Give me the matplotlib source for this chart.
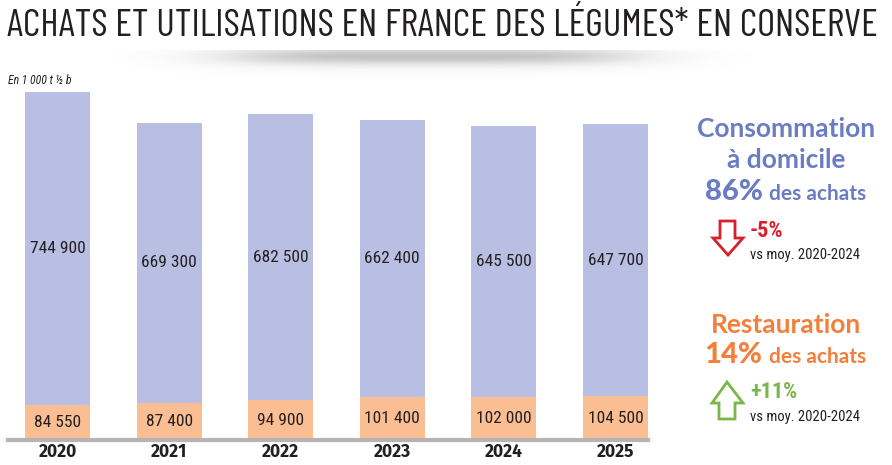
import numpy as np
import matplotlib.pyplot as plt
from matplotlib.patches import Polygon

W, H = 892, 465

years = ["2020", "2021", "2022", "2023", "2024", "2025"]
domicile = [744900, 669300, 682500, 662400, 645500, 647700]
restauration = [84550, 87400, 94900, 101400, 102000, 104500]
domicile_labels = ["744 900", "669 300", "682 500", "662 400", "645 500", "647 700"]
restauration_labels = ["84 550", "87 400", "94 900", "101 400", "102 000", "104 500"]

BLUE_BAR = "#b8bfe3"
ORANGE_BAR = "#fbbe93"
BLUE_TXT = "#6a7cc4"
ORANGE_TXT = "#f47f3a"
RED = "#d7202c"
GREEN = "#7ab648"
DARK = "#231f20"
NARROW = ["Roboto Condensed", "DejaVu Sans"]
GEO = ["Lato", "DejaVu Sans"]


def px(x, y):
    # pixel coords (from top-left) -> figure fraction
    return x / W, 1 - y / H


fig = plt.figure(figsize=(W / 100, H / 100), dpi=100)

# title, shrunk to fit the width of the reference
title = fig.text(*px(7, 27), "ACHATS ET UTILISATIONS EN FRANCE DES LÉGUMES* EN CONSERVE",
                 family=["Barlow Condensed", "Roboto Condensed", "DejaVu Sans"],
                 fontweight="normal", fontsize=30, color=DARK, va="center", ha="left")
r = fig.canvas.get_renderer()
tw = title.get_window_extent(r).width
if tw > 873:
    title.set_fontsize(30 * 873 / tw)

# soft shadow under the title
sax = fig.add_axes([60 / W, 1 - 80 / H, 740 / W, 30 / H])
gx = np.linspace(-1, 1, 300)
gy = np.linspace(0, 1, 40)
hx = np.exp(-(gx / 0.6) ** 4)
vy = np.exp(-((gy - 0.2) / 0.35) ** 2)
shade = np.outer(vy, hx) * 0.35
sax.imshow(shade, cmap="Greys", vmin=0, vmax=1, aspect="auto", interpolation="bilinear")
sax.axis("off")

fig.text(*px(8, 80), "En 1 000 t ½ b", fontsize=8.5, style="italic",
         color=DARK, va="center", ha="left", family=NARROW)

# bars
base_y, top_y = 440, 92
ax = fig.add_axes([8 / W, 1 - base_y / H, 640 / W, (base_y - top_y) / H])
x = np.arange(len(years))
totals = np.array(domicile) + np.array(restauration)
ax.bar(x, restauration, width=0.583, color=ORANGE_BAR, zorder=2)
ax.bar(x, domicile, width=0.583, bottom=restauration, color=BLUE_BAR, zorder=2)
ax.set_xlim(-0.444, 5.292)
ax.set_ylim(0, totals.max())
ax.axhline(0, color="#b5b5b7", lw=3, zorder=3, clip_on=False)
for i in range(len(years)):
    ax.text(x[i], restauration[i] + domicile[i] / 2, domicile_labels[i],
            ha="center", va="center", fontsize=12.5, family=NARROW, color=DARK)
    ax.text(x[i], restauration[i] / 2, restauration_labels[i],
            ha="center", va="center", fontsize=12.5, family=NARROW, color=DARK)
ax.set_xticks(x)
ax.set_xticklabels(years, fontsize=12.5, fontweight="bold", color=DARK,
                   family=["Fira Sans", "DejaVu Sans"])
ax.tick_params(axis="x", length=0, pad=2)
ax.set_yticks([])
for s in ax.spines.values():
    s.set_visible(False)

# right panel
fig.text(*px(786, 137), "Consommation", family=GEO, fontweight="bold", fontsize=19,
         color=BLUE_TXT, ha="center", va="baseline")
fig.text(*px(786, 168), "à domicile", family=GEO, fontweight="bold", fontsize=19,
         color=BLUE_TXT, ha="center", va="baseline")
fig.text(*px(763, 200), "86%", family=GEO, fontweight="black", fontsize=21,
         color=BLUE_TXT, ha="right", va="baseline")
fig.text(*px(769, 200), "des achats", family=GEO, fontweight="bold", fontsize=15,
         color=BLUE_TXT, ha="left", va="baseline")

fig.text(*px(786, 333), "Restauration", family=GEO, fontweight="bold", fontsize=19,
         color=ORANGE_TXT, ha="center", va="baseline")
fig.text(*px(762, 363), "14%", family=GEO, fontweight="black", fontsize=21,
         color=ORANGE_TXT, ha="right", va="baseline")
fig.text(*px(769, 363), "des achats", family=GEO, fontweight="bold", fontsize=15,
         color=ORANGE_TXT, ha="left", va="baseline")

# arrows
down = [px(720, 221), px(735, 221), px(735, 238), px(743, 238), px(728, 255),
        px(713, 238), px(720, 238)]
up = [px(719, 419), px(735, 419), px(735, 403), px(743, 403), px(727, 382),
      px(712, 403), px(719, 403)]
fig.patches.append(Polygon(down, closed=True, fill=False, ec=RED, lw=2,
                           transform=fig.transFigure, joinstyle="miter"))
fig.patches.append(Polygon(up, closed=True, fill=False, ec=GREEN, lw=2,
                           transform=fig.transFigure, joinstyle="miter"))

fig.text(*px(750, 231), "-5%", family=NARROW, fontweight="bold", fontsize=16,
         color=RED, ha="left", va="center")
fig.text(*px(750, 255), "vs moy. 2020-2024", family=NARROW, fontsize=10.5,
         color=DARK, ha="left", va="center")
fig.text(*px(750, 392), "+11%", family=NARROW, fontweight="bold", fontsize=16,
         color=GREEN, ha="left", va="center")
fig.text(*px(750, 417), "vs moy. 2020-2024", family=NARROW, fontsize=10.5,
         color=DARK, ha="left", va="center")

fig.savefig("out.png", dpi=100, facecolor="white")
